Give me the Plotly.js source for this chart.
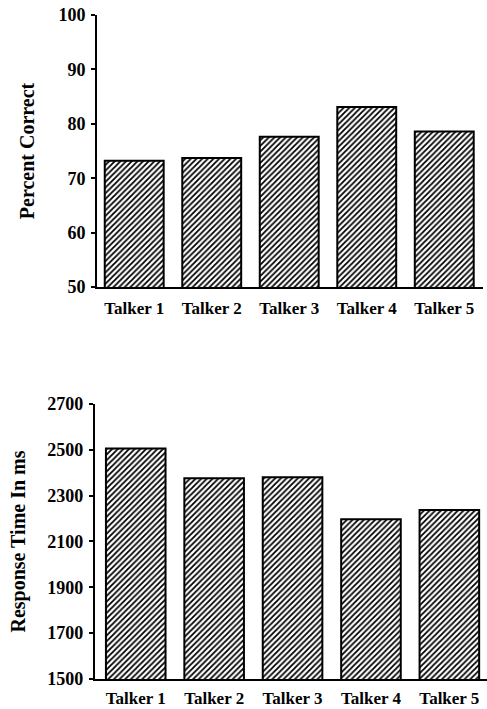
<!DOCTYPE html>
<html>
<head>
<meta charset="utf-8">
<script src="https://cdn.plot.ly/plotly-3.0.1.min.js"></script>
<style>html,body{margin:0;padding:0;background:#fff;}#chart{width:487px;height:709px;}</style>
</head>
<body>
<div id="chart"></div>
<script>
const talkers = ["Talker 1", "Talker 2", "Talker 3", "Talker 4", "Talker 5"];
const percentCorrect = [73.2, 73.7, 77.6, 83.1, 78.6];
const responseTime = [2506, 2376, 2380, 2197, 2237];
const pctTicks = [50, 60, 70, 80, 90, 100];
const rtTicks = [1500, 1700, 1900, 2100, 2300, 2500, 2700];

const font = "Liberation Serif, Times New Roman, serif";
const barMarker = {
  color: "white",
  line: {color: "black", width: 2},
  pattern: {shape: "/", fgcolor: "black", bgcolor: "white", size: 4, solidity: 0.45}
};

const data = [
  {type: "bar", x: talkers, y: percentCorrect, xaxis: "x", yaxis: "y", marker: barMarker, width: 0.76, hoverinfo: "x+y"},
  {type: "bar", x: talkers, y: responseTime, xaxis: "x2", yaxis: "y2", marker: barMarker, width: 0.76, hoverinfo: "x+y"}
];

const xCommon = {
  type: "category", showline: true, linecolor: "black", linewidth: 2,
  ticks: "", showgrid: false, zeroline: false, fixedrange: true,
  tickfont: {family: font, size: 17, color: "black", weight: "bold"}
};
const yCommon = {
  showline: true, linecolor: "black", linewidth: 2, ticks: "outside", ticklen: 4,
  tickwidth: 2, tickcolor: "black", showgrid: false, zeroline: false, fixedrange: true,
  tickfont: {family: font, size: 18, color: "black", weight: "bold"},
  ticklabelstandoff: 2
};

const layout = {
  width: 487, height: 709,
  margin: {l: 0, r: 0, t: 0, b: 0},
  paper_bgcolor: "white", plot_bgcolor: "white",
  showlegend: false,
  xaxis: Object.assign({}, xCommon, {domain: [0.1992, 0.9918], range: [-0.48, 4.5], anchor: "y", ticklabelstandoff: 5}),
  yaxis: Object.assign({}, yCommon, {
    domain: [0.5952, 0.9788], range: [50, 100], tickvals: pctTicks, anchor: "x",
    title: {text: "Percent Correct", font: {family: font, size: 20, color: "black", weight: "bold"}, standoff: 18}
  }),
  xaxis2: Object.assign({}, xCommon, {domain: [0.195, 1.0], range: [-0.52, 4.48], anchor: "y2", ticklabelstandoff: 3}),
  yaxis2: Object.assign({}, yCommon, {
    domain: [0.0423, 0.4302], range: [1500, 2700], tickvals: rtTicks, anchor: "x2",
    title: {text: "Response Time In ms", font: {family: font, size: 20, color: "black", weight: "bold"}, standoff: 16}
  })
};

Plotly.newPlot("chart", data, layout, {displayModeBar: false, staticPlot: true});
</script>
</body>
</html>
